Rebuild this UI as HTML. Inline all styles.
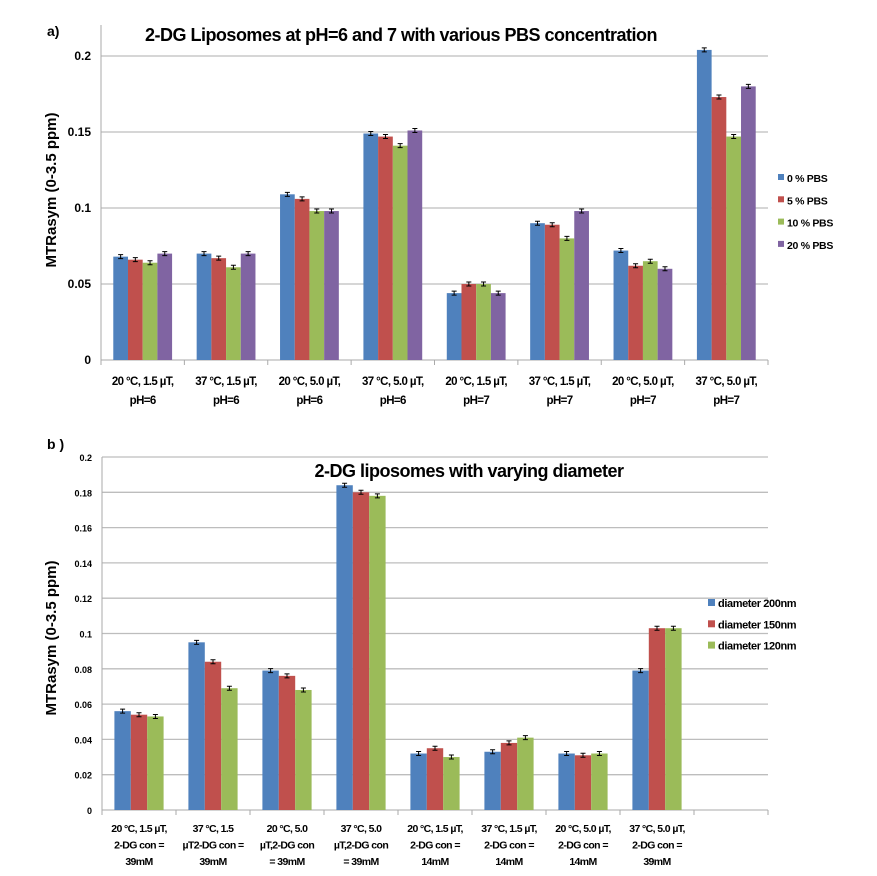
<!DOCTYPE html>
<html><head><meta charset="utf-8"><style>
body{margin:0;background:#fff}
svg{display:block;font-family:"Liberation Sans",sans-serif;font-weight:bold}
</style></head><body>
<svg id="c" width="877" height="876"></svg>
<script>
const catsA=[["20 °C, 1.5 µT,","pH=6"],["37 °C, 1.5 µT,","pH=6"],["20 °C, 5.0 µT,","pH=6"],["37 °C, 5.0 µT,","pH=6"],["20 °C, 1.5 µT,","pH=7"],["37 °C, 1.5 µT,","pH=7"],["20 °C, 5.0 µT,","pH=7"],["37 °C, 5.0 µT,","pH=7"]];
const seriesNamesA=["0 % PBS","5 % PBS","10 % PBS","20 % PBS"];
const pbs0=[0.068,0.070,0.109,0.149,0.044,0.090,0.072,0.204];
const pbs5=[0.066,0.067,0.106,0.147,0.050,0.089,0.062,0.173];
const pbs10=[0.064,0.061,0.098,0.141,0.050,0.080,0.065,0.147];
const pbs20=[0.070,0.070,0.098,0.151,0.044,0.098,0.060,0.180];
const ticksA=[0,0.05,0.1,0.15,0.2];
const tickLabelsA=["0","0.05","0.1","0.15","0.2"];
const catsB=[["20 °C, 1.5 µT,","2-DG con =","39mM"],["37 °C, 1.5","µT2-DG con =","39mM"],["20 °C, 5.0","µT,2-DG con","= 39mM"],["37 °C, 5.0","µT,2-DG con","= 39mM"],["20 °C, 1.5 µT,","2-DG con =","14mM"],["37 °C, 1.5 µT,","2-DG con =","14mM"],["20 °C, 5.0 µT,","2-DG con =","14mM"],["37 °C, 5.0 µT,","2-DG con =","39mM"]];
const seriesNamesB=["diameter 200nm","diameter 150nm","diameter 120nm"];
const d200=[0.056,0.095,0.079,0.184,0.032,0.033,0.032,0.079];
const d150=[0.054,0.084,0.076,0.180,0.035,0.038,0.031,0.103];
const d120=[0.053,0.069,0.068,0.178,0.030,0.041,0.032,0.103];
const ticksB=[0,0.02,0.04,0.06,0.08,0.1,0.12,0.14,0.16,0.18,0.2];
const tickLabelsB=["0","0.02","0.04","0.06","0.08","0.1","0.12","0.14","0.16","0.18","0.2"];
const colors=["#4f81bd","#c0504d","#9bbb59","#8064a2"];
const svg=document.getElementById('c');
const NS="http://www.w3.org/2000/svg";
function mk(tag,attrs,parent){const e=document.createElementNS(NS,tag);for(const k in attrs)e.setAttribute(k,attrs[k]);(parent||svg).appendChild(e);return e;}
function txt(s,x,y,size,anchor,parent,ls){const t=mk('text',{x:x,y:y,'font-size':size,'text-anchor':anchor||'middle',fill:'#000','letter-spacing':ls||0},parent);t.textContent=s;return t;}

function chart(o){
  const g=mk('g',{});
  
  
  const y=v=>o.y0-(v/o.ymax)*(o.y0-o.ytop);
  const slot=(o.x1-o.x0)/o.nslots;
  o.ticks.forEach((t,i)=>{
    if(t>0){const l=mk('line',{x1:o.x0,x2:o.x1,y1:y(t),y2:y(t),stroke:'#bdbdbd','stroke-width':1.3},g);
    }
    const tl=txt(o.tickLabels[i],o.x0-o.tickGap,y(t)+4,o.tickSize,'end',g);
    
  });
  const ax=mk('line',{x1:o.x0,x2:o.x0,y1:o.axTop,y2:o.y0,stroke:'#aaa','stroke-width':1},g);
  
  const xa=mk('line',{x1:o.x0,x2:o.x1,y1:o.y0,y2:o.y0,stroke:'#aaa','stroke-width':1},g);
  
  for(let i=0;i<=o.nslots;i++){mk('line',{x1:o.x0+i*slot,x2:o.x0+i*slot,y1:o.y0,y2:o.y0+5,stroke:'#aaa'},g);}
  const ns=o.series.length;
  o.series.forEach((arr,s)=>{
    arr.forEach((v,i)=>{
      const bx=o.x0+i*slot+(slot-ns*o.bw)/2+s*o.bw;
      const r=mk('rect',{x:bx,y:y(v),width:o.bw,height:o.y0-y(v),fill:colors[s]},g);
      
      
      const cx=bx+o.bw/2,e=o.err,ey=y(v);
      mk('path',{d:`M${cx},${ey-e}V${ey+e}M${cx-2.5},${ey-e}H${cx+2.5}M${cx-2.5},${ey+e}H${cx+2.5}`,stroke:'#000','stroke-width':1,fill:'none'},g);
    });
  });
  o.cats.forEach((c,i)=>{
    c.forEach((line,j)=>{const t=txt(line,o.x0+(i+0.5)*slot,o.labY+j*o.labDy,o.labSize,'middle',g,o.labLs);
      });
  });
  o.snames.forEach((n,s)=>{
    const lg=mk('g',{},g);
    
    
    mk('rect',{x:o.legX,y:o.legY+s*o.legDy-4,width:o.legSq,height:o.legSq,fill:colors[s]},lg);
    txt(n,o.legX+o.legSq+3,o.legY+s*o.legDy+4,o.legSize,'start',lg,o.legLs);
  });
}
chart({name:'chart-a',x0:101,x1:768,nslots:8,y0:360,ytop:56,ymax:0.2,axTop:25,ticks:ticksA,tickLabels:tickLabelsA,tickGap:10,tickSize:12,
  series:[pbs0,pbs5,pbs10,pbs20],snames:seriesNamesA,bw:14.7,err:2,cats:catsA,labY:385,labDy:19,labSize:11.5,labLs:-0.6,legX:778,legY:178,legDy:22.3,legSq:6,legSize:10.5,legLs:-0.3});
chart({name:'chart-b',x0:102,x1:768,nslots:9,y0:810,ytop:457,ymax:0.2,axTop:457,ticks:ticksB,tickLabels:tickLabelsB,tickGap:10,tickSize:9,
  series:[d200,d150,d120],snames:seriesNamesB,bw:16.4,err:2,cats:catsB,labY:832,labDy:16.5,labSize:10.5,labLs:-0.6,legX:708,legY:603,legDy:21.3,legSq:7,legSize:11,legLs:-0.4});
let t;
t=txt("a)",47,36,14,'start');
t=txt("b )",47,449,14,'start');
t=txt("2-DG Liposomes at pH=6 and 7 with various PBS concentration",401,41,18,'middle',null,-0.5);
t=txt("2-DG liposomes with varying diameter",469,477,18,'middle',null,-0.5);
t=mk('text',{x:0,y:0,'font-size':15,'text-anchor':'middle',transform:'translate(56,190) rotate(-90)'});t.textContent="MTRasym (0-3.5 ppm)";

t=mk('text',{x:0,y:0,'font-size':15,'text-anchor':'middle',transform:'translate(56,638) rotate(-90)'});t.textContent="MTRasym (0-3.5 ppm)";

</script>
</body></html>
